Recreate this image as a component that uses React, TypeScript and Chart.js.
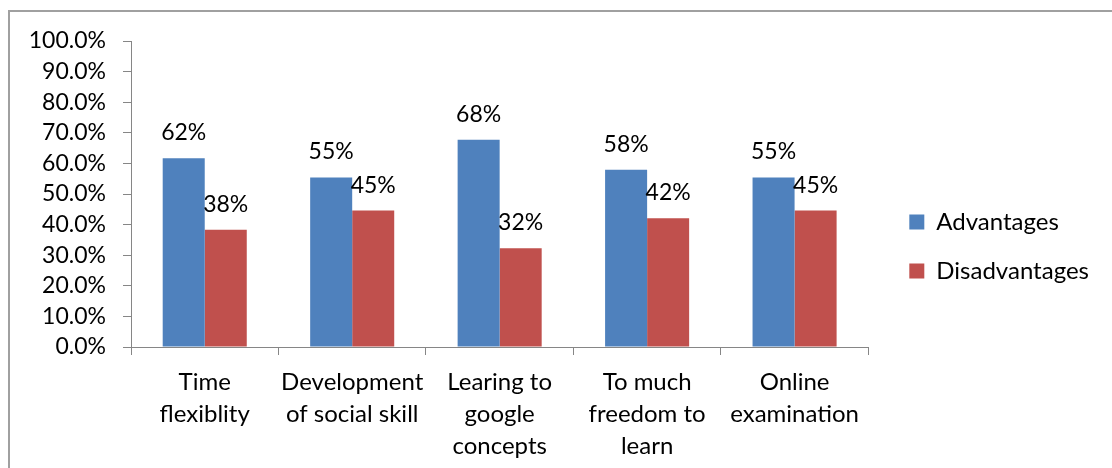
import React, { useEffect, useRef } from "react";
import { Chart, registerables } from "chart.js";

Chart.register(...registerables);

const categories: string[][] = [
  ["Time", "flexiblity"],
  ["Development", "of social skill"],
  ["Learing to", "google", "concepts"],
  ["To much", "freedom to", "learn"],
  ["Online", "examination"],
];
const seriesNames = ["Advantages", "Disadvantages"];
const advantages = [61.7, 55.4, 67.7, 57.9, 55.4];
const disadvantages = [38.3, 44.6, 32.3, 42.1, 44.6];
const yMin = 0;
const yMax = 100;
const yStep = 10;

const FONT = "Lato";
const NUM_SIZE = 23;
const TEXT_SIZE = 24;
const AXIS = "#868686";
const BLUE = "#4F81BD";
const RED = "#C0504D";

const dataLabelPlugin = {
  id: "barValueLabels",
  afterDatasetsDraw(chart: any) {
    const ctx = chart.ctx;
    ctx.save();
    ctx.font = `${NUM_SIZE}px ${FONT}`;
    ctx.fillStyle = "#000";
    ctx.textAlign = "center";
    ctx.textBaseline = "alphabetic";
    chart.data.datasets.forEach((ds: any, di: number) => {
      const meta = chart.getDatasetMeta(di);
      meta.data.forEach((bar: any, i: number) => {
        const v = ds.data[i] as number;
        ctx.fillText(Math.round(v) + "%", bar.x, bar.y - 18);
      });
    });
    ctx.restore();
  },
};

export default function App() {
  const ref = useRef<HTMLCanvasElement | null>(null);

  useEffect(() => {
    if (!ref.current) return;
    Chart.defaults.font.family = FONT;
    const chart = new Chart(ref.current, {
      type: "bar",
      data: {
        labels: categories,
        datasets: [
          {
            label: seriesNames[0],
            data: advantages,
            backgroundColor: BLUE,
            barPercentage: 1,
            categoryPercentage: 0.57,
          },
          {
            label: seriesNames[1],
            data: disadvantages,
            backgroundColor: RED,
            barPercentage: 1,
            categoryPercentage: 0.57,
          },
        ],
      },
      options: {
        animation: false,
        responsive: false,
        maintainAspectRatio: false,
        devicePixelRatio: 1,
        layout: { padding: { top: 25, left: 20, right: 13, bottom: 0 } },
        plugins: {
          tooltip: { enabled: false },
          title: { display: false },
          legend: {
            display: true,
            position: "right",
            align: "center",
            maxWidth: 300,
            labels: {
              boxWidth: 15,
              boxHeight: 15,
              padding: 25,
              color: "#000",
              font: { size: TEXT_SIZE, family: FONT },
            },
          },
        },
        scales: {
          x: {
            grid: {
              display: true,
              drawOnChartArea: false,
              tickLength: 8,
              color: AXIS,
              offset: true,
            },
            border: { color: AXIS, width: 1 },
            ticks: {
              color: "#000",
              font: { size: TEXT_SIZE, family: FONT, lineHeight: 1.34 },
              padding: 11,
              maxRotation: 0,
              minRotation: 0,
              autoSkip: false,
            },
            afterFit: (s: any) => {
              s.height = 121;
            },
          },
          x2: {
            type: "linear",
            position: "top",
            display: true,
            grid: { display: false },
            border: { display: false },
            ticks: { display: false },
            afterFit: (s: any) => {
              s.height = 16;
            },
          },
          y: {
            min: yMin,
            max: yMax,
            ticks: {
              stepSize: yStep,
              color: "#000",
              font: { size: NUM_SIZE, family: FONT },
              padding: 17,
              callback: (v: any) => Number(v).toFixed(1) + "%",
            },
            grid: {
              display: true,
              drawOnChartArea: false,
              tickLength: 8,
              color: AXIS,
            },
            border: { color: AXIS, width: 1 },
            afterFit: (s: any) => {
              s.width = 111;
            },
          },
          y2: {
            type: "linear",
            position: "right",
            display: true,
            grid: { display: false },
            border: { display: false },
            ticks: { display: false },
            afterFit: (s: any) => {
              s.width = 16;
            },
          },
        },
      },
      plugins: [dataLabelPlugin],
    });
    return () => chart.destroy();
  }, []);

  return (
    <div
      style={{
        position: "fixed",
        left: 0,
        top: 0,
        width: 1112,
        height: 468,
        background: "#fff",
        overflow: "hidden",
      }}
    >
      <canvas
        ref={ref}
        width={1112}
        height={468}
        style={{ position: "absolute", left: 0, top: 0, width: 1112, height: 468 }}
      />
      <div
        style={{
          position: "absolute",
          left: 8,
          top: 10,
          width: 1120,
          height: 480,
          borderLeft: "2px solid #a0a0a0",
          borderTop: "2px solid #a0a0a0",
          pointerEvents: "none",
        }}
      />
    </div>
  );
}
